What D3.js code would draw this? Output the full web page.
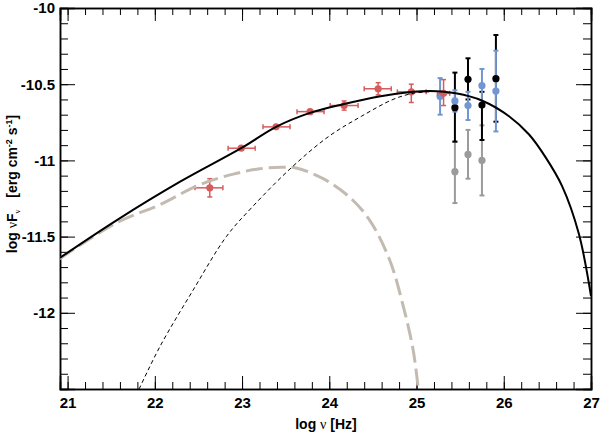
<!DOCTYPE html>
<html>
<head>
<meta charset="utf-8">
<script src="https://cdn.jsdelivr.net/npm/d3@7"></script>
<style>
  body { margin: 0; background: #fff; }
  svg text { font-family: "Liberation Sans", Arial, sans-serif; font-weight: bold; fill: #000; }
  .axis path, .axis line { stroke: #000; }
  .nu { font-family: "Liberation Serif", serif; font-weight: normal; }
</style>
</head>
<body>
<svg id="sed" width="600" height="433"></svg>
<script>
// model curves (log nu, log nuFnu)
const totalX = [20.91, 21.57, 22.29, 22.99, 23.39, 23.77, 24.17, 24.57, 24.96, 25.15, 25.45, 25.76, 26.06, 26.29, 26.48, 26.67, 26.86, 27.0];
const totalY = [-11.64, -11.39, -11.14, -10.92, -10.78, -10.69, -10.63, -10.58, -10.55, -10.545, -10.56, -10.61, -10.71, -10.83, -10.98, -11.17, -11.48, -11.89];

const sscX = [20.91, 21.56, 22.06, 22.51, 22.90, 23.2, 23.45, 23.62, 23.93, 24.23, 24.46, 24.69, 24.84, 24.96, 25.02];
const sscY = [-11.645, -11.41, -11.29, -11.16, -11.09, -11.055, -11.045, -11.05, -11.12, -11.24, -11.39, -11.65, -11.94, -12.24, -12.50];

const ecX = [21.82, 22.06, 22.44, 22.82, 23.11, 23.58, 24.0, 24.37, 24.73, 24.96, 25.15];
const ecY = [-12.50, -12.22, -11.85, -11.50, -11.31, -11.04, -10.84, -10.71, -10.60, -10.56, -10.55];

// red points (x and y errors)
const redX = [22.63, 22.99, 23.39, 23.78, 24.17, 24.56, 24.94, 25.31];
const redY = [-11.18, -10.92, -10.78, -10.68, -10.64, -10.53, -10.55, -10.56];
const redXLo = [22.46, 22.84, 23.24, 23.63, 24.01, 24.40, 24.78, 25.24];
const redXHi = [22.78, 23.15, 23.55, 23.94, 24.33, 24.71, 25.11, 25.38];
const redYLo = [-11.24, -10.93, -10.79, -10.69, -10.67, -10.57, -10.62, -10.64];
const redYHi = [-11.12, -10.91, -10.77, -10.67, -10.61, -10.49, -10.50, -10.47];

// high energy points (y errors only)
const grayX = [25.44, 25.59, 25.75];
const grayY = [-11.074, -10.961, -11.0];
const grayLo = [-11.28, -11.12, -11.23];
const grayHi = [-10.877, -10.80, -10.77];

const blackX = [25.44, 25.59, 25.75, 25.91];
const blackY = [-10.654, -10.468, -10.637, -10.464];
const blackLo = [-10.877, -10.60, -10.866, -10.746];
const blackHi = [-10.424, -10.33, -10.55, -10.177];

const blueX = [25.27, 25.44, 25.59, 25.75, 25.91];
const blueY = [-10.58, -10.61, -10.64, -10.51, -10.545];
const blueLo = [-10.70, -10.68, -10.735, -10.64, -10.81];
const blueHi = [-10.46, -10.54, -10.55, -10.40, -10.28];

const xTicks = [21, 22, 23, 24, 25, 26, 27];
const yTicks = [-10, -10.5, -11, -11.5, -12];

const svg = d3.select('#sed');
const width = +svg.attr('width');
const height = +svg.attr('height');
const margin = {top: 8, right: 9, bottom: 44, left: 60};
const w = width - margin.left - margin.right;
const h = height - margin.top - margin.bottom;

const x = d3.scaleLinear().domain([20.913, 27]).range([0, w]);
const y = d3.scaleLinear().domain([-12.5, -10]).range([h, 0]);

const g = svg.append('g').attr('transform', `translate(${margin.left},${margin.top})`);

svg.append('defs').append('clipPath').attr('id', 'clip')
    .append('rect').attr('width', w).attr('height', h);

const xMinor = d3.range(21, 27.001, 0.2).map(d => +d.toFixed(1));
const yMinor = d3.range(-12.5, -9.999, 0.1).map(d => +d.toFixed(1));

// axes, ticks pointing inward
g.append('g').attr('class', 'axis').attr('transform', `translate(0,${h})`)
    .call(d3.axisBottom(x).tickValues(xMinor).tickSize(-7).tickFormat(''));
g.append('g').attr('class', 'axis').attr('transform', `translate(0,${h})`)
    .call(d3.axisBottom(x).tickValues(xTicks).tickSize(-13).tickPadding(8).tickFormat(d => d))
    .selectAll('text').style('font-size', '15px');
g.append('g').attr('class', 'axis')
    .call(d3.axisTop(x).tickValues(xMinor).tickSize(-7).tickFormat(''));
g.append('g').attr('class', 'axis')
    .call(d3.axisTop(x).tickValues(xTicks).tickSize(-13).tickFormat(''));

g.append('g').attr('class', 'axis')
    .call(d3.axisLeft(y).tickValues(yMinor).tickSize(-8).tickFormat(''));
g.append('g').attr('class', 'axis')
    .call(d3.axisLeft(y).tickValues(yTicks).tickSize(-15).tickPadding(5).tickFormat(d => String(d)))
    .selectAll('text').style('font-size', '15px');
g.append('g').attr('class', 'axis').attr('transform', `translate(${w},0)`)
    .call(d3.axisRight(y).tickValues(yMinor).tickSize(-8).tickFormat(''));
g.append('g').attr('class', 'axis').attr('transform', `translate(${w},0)`)
    .call(d3.axisRight(y).tickValues(yTicks).tickSize(-15).tickFormat(''));

g.selectAll('.axis path').attr('stroke-width', 1.5);

// error bars
const cap = 2.5;
const vbars = (xs, ys, lo, hi, color, sw) => {
    const pts = xs.map((v, i) => ({x: v, y: ys[i], lo: lo[i], hi: hi[i]}));
    const e = g.append('g').attr('stroke', color).attr('stroke-width', sw);
    e.selectAll('.v').data(pts).enter().append('line')
        .attr('x1', d => x(d.x)).attr('x2', d => x(d.x))
        .attr('y1', d => y(d.lo)).attr('y2', d => y(d.hi));
    e.selectAll('.c1').data(pts).enter().append('line')
        .attr('x1', d => x(d.x) - cap).attr('x2', d => x(d.x) + cap)
        .attr('y1', d => y(d.lo)).attr('y2', d => y(d.lo));
    e.selectAll('.c2').data(pts).enter().append('line')
        .attr('x1', d => x(d.x) - cap).attr('x2', d => x(d.x) + cap)
        .attr('y1', d => y(d.hi)).attr('y2', d => y(d.hi));
    return pts;
};
const dots = (pts, color) => {
    g.append('g').selectAll('circle').data(pts).enter().append('circle')
        .attr('cx', d => x(d.x)).attr('cy', d => y(d.y))
        .attr('r', 3.6).attr('fill', color);
};

const grayPts = vbars(grayX, grayY, grayLo, grayHi, '#9b9b9b', 2);
dots(grayPts, '#9b9b9b');
const blackPts = vbars(blackX, blackY, blackLo, blackHi, '#000', 2);
const bluePts = vbars(blueX, blueY, blueLo, blueHi, '#7296d2', 2);
dots(blackPts, '#000');
dots(bluePts, '#7296d2');

// red points with x errors too
const redColor = '#d65c5c';
const redPts = vbars(redX, redY, redYLo, redYHi, redColor, 1.5);
const re = g.append('g').attr('stroke', redColor).attr('stroke-width', 1.5);
redPts.forEach((d, i) => {
    const xl = redXLo[i], xh = redXHi[i];
    re.append('line').attr('x1', x(xl)).attr('x2', x(xh)).attr('y1', y(d.y)).attr('y2', y(d.y));
    re.append('line').attr('x1', x(xl)).attr('x2', x(xl)).attr('y1', y(d.y) - cap).attr('y2', y(d.y) + cap);
    re.append('line').attr('x1', x(xh)).attr('x2', x(xh)).attr('y1', y(d.y) - cap).attr('y2', y(d.y) + cap);
});
dots(redPts, redColor);

// model curves
const line = d3.line().x(d => x(d[0])).y(d => y(d[1])).curve(d3.curveCatmullRom);
const curves = g.append('g').attr('clip-path', 'url(#clip)').attr('fill', 'none');
curves.append('path').datum(sscX.map((v, i) => [v, sscY[i]]))
    .attr('d', line).attr('stroke', '#c3bbb1').attr('stroke-width', 3)
    .attr('stroke-dasharray', '17,6');
curves.append('path').datum(ecX.map((v, i) => [v, ecY[i]]))
    .attr('d', line).attr('stroke', '#000').attr('stroke-width', 1)
    .attr('stroke-dasharray', '4,3');
curves.append('path').datum(totalX.map((v, i) => [v, totalY[i]]))
    .attr('d', line).attr('stroke', '#000').attr('stroke-width', 2);

// axis titles
const xt = svg.append('text').attr('x', 326).attr('y', 429)
    .attr('text-anchor', 'middle').style('font-size', '14px');
xt.append('tspan').text('log ');
xt.append('tspan').attr('class', 'nu').text('ν');
xt.append('tspan').text(' [Hz]');

const yt = svg.append('text').attr('transform', 'translate(17,184) rotate(-90)')
    .attr('text-anchor', 'middle').style('font-size', '14px');
yt.append('tspan').text('log ');
yt.append('tspan').attr('class', 'nu').text('ν');
yt.append('tspan').text('F');
yt.append('tspan').attr('class', 'nu').attr('dy', 3).style('font-size', '9px').text('ν');
yt.append('tspan').attr('dy', -3).text('\u00a0\u00a0\u00a0[erg cm');
yt.append('tspan').attr('dy', -5).style('font-size', '9px').text('-2');
yt.append('tspan').attr('dy', 5).text(' s');
yt.append('tspan').attr('dy', -5).style('font-size', '9px').text('-1');
yt.append('tspan').attr('dy', 5).text(']');
</script>
</body>
</html>
